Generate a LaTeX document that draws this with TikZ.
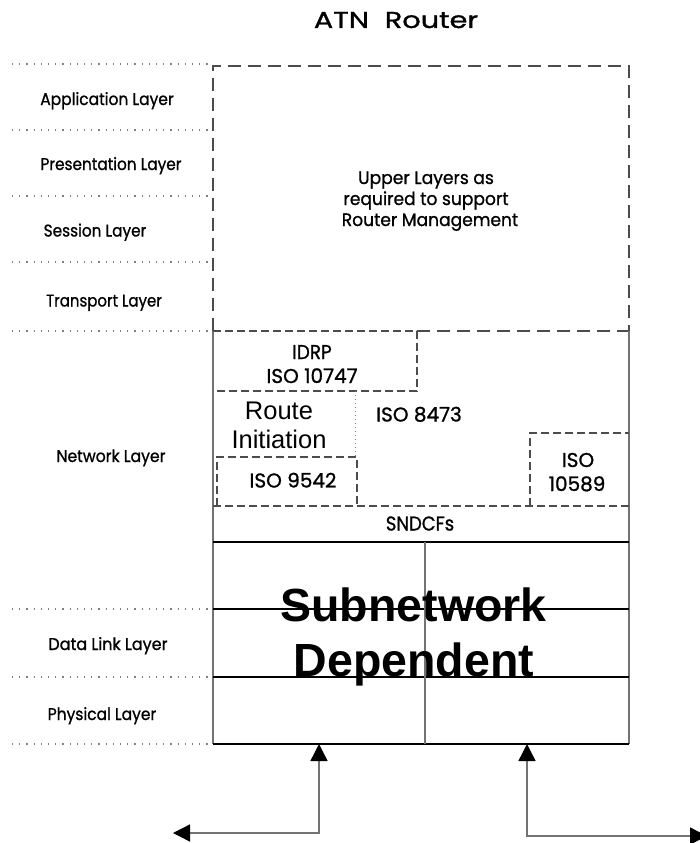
\documentclass[tikz,border=0pt]{standalone}
\usepackage{fontspec}
\setmainfont{Poppins}[FakeBold=1]
\newfontfamily\arialfont{Liberation Sans}
\usetikzlibrary{arrows.meta}

% horizontal squeeze/stretch of a label
\newcommand\hsq[2]{\scalebox{#1}[1]{#2}}

\tikzset{
  lbl/.style={anchor=base, inner sep=0pt, font=\fontsize{17}{19}\selectfont},
  proto/.style={anchor=base, inner sep=0pt, font=\fontsize{20}{22}\selectfont},
  bigtitle/.style={anchor=base, inner sep=0pt, font=\fontsize{23}{25}\selectfont},
  arialtxt/.style={anchor=base, inner sep=0pt, font=\arialfont\fontsize{25.5}{28}\selectfont},
  boldtxt/.style={anchor=base, inner sep=0pt, font=\arialfont\bfseries\fontsize{46.5}{50}\selectfont},
  layersep/.style={gray, line width=1.2pt, dash pattern=on 1.2pt off 6pt},
  frameline/.style={black!55, line width=1.6pt},
  rowline/.style={black, line width=1.1pt},
  bigdash/.style={black!70, line width=1.1pt, dash pattern=on 13pt off 7pt},
  smalldash/.style={black!70, line width=1.1pt, dash pattern=on 8pt off 4pt},
  finedot/.style={black!50, line width=1pt, dash pattern=on 1pt off 3pt},
  tipshape/.style={},
  link/.style={black!55, line width=1.4pt,
    {Triangle[length=17pt,width=17pt,color=black]}-{Triangle[length=17pt,width=17pt,color=black]}},
}

\begin{document}
\begin{tikzpicture}[x=1pt,y=-1pt]
\useasboundingbox (0,0) rectangle (700,843);

% title
\node[bigtitle] (title) at (396,28) {\hsq{1.25}{ATN\hspace{0.55em}Router}};

% OSI layer separators on the left
\foreach \yy in {64,130,196,262,331,609,677,744}
  \draw[layersep] (12,\yy) -- (211,\yy);

% OSI layer names
\node[lbl] (app)   at (107,105) {\hsq{0.91}{Application Layer}};
\node[lbl] (pres)  at (111,170) {\hsq{0.9}{Presentation Layer}};
\node[lbl] (sess)  at (95,236.5) {\hsq{0.9}{Session Layer}};
\node[lbl] (trans) at (104,306.5) {\hsq{0.88}{Transport Layer}};
\node[lbl] (net)   at (111,462) {\hsq{0.92}{Network Layer}};
\node[lbl] (dl)    at (108,650) {\hsq{0.94}{Data Link Layer}};
\node[lbl] (phys)  at (102,720) {\hsq{0.91}{Physical Layer}};

% upper layers box
\draw[bigdash] (213,331) -- (213,66) -- (629,66) -- (629,331);
\node[lbl, font=\fontsize{18}{20}\selectfont] (upper1) at (426,184) {\hsq{0.95}{Upper Layers as}};
\node[lbl, font=\fontsize{18}{20}\selectfont] (upper2) at (426,205) {\hsq{0.95}{required to support}};
\node[lbl, font=\fontsize{18}{20}\selectfont] (upper3) at (430,226) {\hsq{0.95}{Router Management}};

% network layer box
\draw[bigdash] (417,331) -- (629,331);
\draw[frameline] (213,331) -- (213,744);
\draw[frameline] (629,331) -- (629,744);

% IDRP
\draw[smalldash] (213,331) -- (417,331) -- (417,391) -- (213,391);
\node[proto] (idrp)  at (312,359) {\hsq{0.92}{IDRP}};
\node[proto] (idrp2) at (312,383) {ISO 10747};

% route initiation
\draw[finedot] (355,391) -- (355,457);
\node[arialtxt] (route) at (279,419) {Route};
\node[arialtxt] (init)  at (279,448) {Initiation};
\draw[smalldash] (217,506) -- (217,457) -- (357,457) -- (357,506);
\node[proto] (es) at (293,487.5) {ISO 9542};

% CLNP
\node[proto] (clnp) at (419,421.5) {ISO 8473};

% IS-IS
\draw[smalldash] (530,506) -- (530,433) -- (629,433);
\node[proto] (isis1) at (578,467) {ISO};
\node[proto] (isis2) at (577,491) {10589};

% SNDCFs
\draw[smalldash] (213,506) -- (629,506);
\node[proto] (sndcf) at (420,530.5) {\hsq{0.9}{SNDCFs}};

% subnetwork dependent grid
\foreach \yy in {542,609,677,744}
  \draw[rowline] (213,\yy) -- (629,\yy);
\draw[frameline] (425,542) -- (425,744);
\node[boldtxt] (sub1) at (413.5,621.5) {Subnetwork};
\node[boldtxt] (sub2) at (414,676.5) {Dependent};

% subnetwork attachments
\coordinate (portA) at (319,744);
\coordinate (portB) at (527,744);
\coordinate (endA)  at (173,833);
\coordinate (endB)  at (707,836);
\draw[link] (portA) |- (endA);
\draw[link] (portB) |- (endB);
\end{tikzpicture}
\end{document}
